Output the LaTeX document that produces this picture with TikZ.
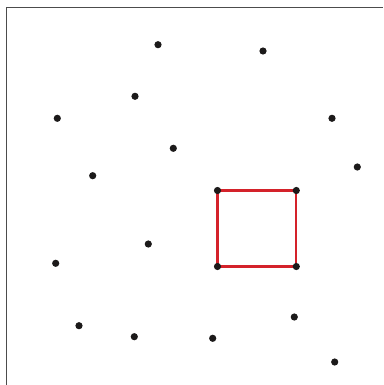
\documentclass[tikz,border=0pt]{standalone}
\definecolor{sqred}{RGB}{212,34,42}
\definecolor{dotc}{RGB}{28,26,26}
\pgfdeclarelayer{bg}
\pgfsetlayers{bg,main}
\begin{document}
\begin{tikzpicture}[x=1pt,y=-1pt,
  dot/.style={circle,fill=dotc,inner sep=0pt,minimum size=7.2pt},
  edge/.style={draw=sqred,line width=2.2pt}]
\useasboundingbox (0,0) rectangle (383,385);
\draw[black!70,line width=1.8pt] (6.5,385) -- (6.5,7.5) -- (383,7.5);
\node[dot] (p1) at (158,44.7) {};
\node[dot] (p2) at (263,51) {};
\node[dot] (p3) at (135,96.3) {};
\node[dot] (p4) at (57.3,118.3) {};
\node[dot] (p5) at (332,118.3) {};
\node[dot] (p6) at (173.3,148.3) {};
\node[dot] (p7) at (357.3,167) {};
\node[dot] (p8) at (92.7,175.7) {};
\node[dot] (a) at (217.5,190.5) {};
\node[dot] (b) at (296.3,190.5) {};
\node[dot] (p9) at (148.3,244) {};
\node[dot] (p10) at (55.7,263.3) {};
\node[dot] (c) at (217.5,266.5) {};
\node[dot] (d) at (296.3,266.5) {};
\node[dot] (p11) at (79,325.7) {};
\node[dot] (p12) at (134.3,336.7) {};
\node[dot] (p13) at (212.7,338.3) {};
\node[dot] (p14) at (294.3,317) {};
\node[dot] (p15) at (334.7,362) {};
\begin{pgfonlayer}{bg}
\draw[edge] (a.center) -- (b.center) -- (d.center) -- (c.center) -- cycle;
\end{pgfonlayer}
\end{tikzpicture}
\end{document}
